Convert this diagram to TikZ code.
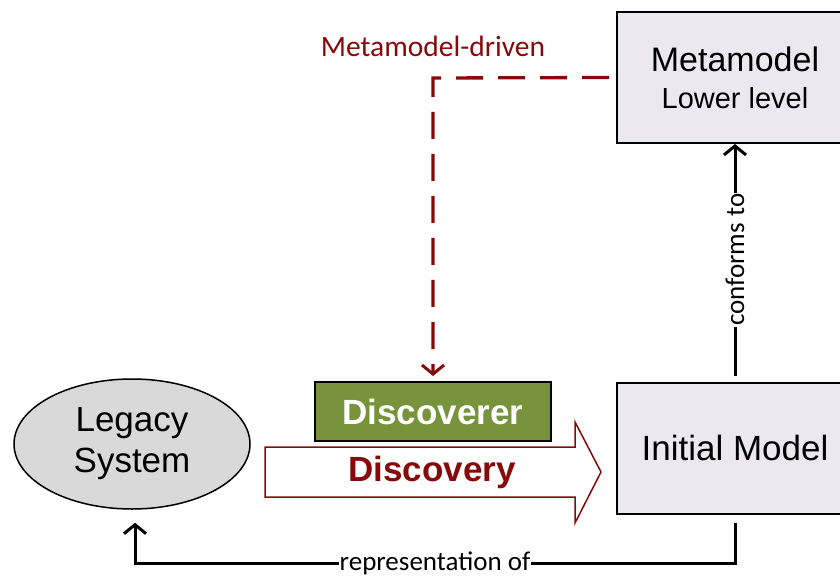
\documentclass[tikz,border=0pt]{standalone}
\usepackage{fontspec}
\setmainfont{Liberation Sans}
\newfontfamily\labelfont{Carlito}
\usetikzlibrary{shapes.geometric,arrows.meta}

\definecolor{boxfill}{RGB}{235,232,239}
\definecolor{legacyfill}{RGB}{217,217,217}
\definecolor{discgreen}{RGB}{119,147,60}
\definecolor{darkred}{RGB}{134,10,10}

\tikzset{
  model/.style={draw, line width=2pt, fill=boxfill, rectangle, align=center,
                minimum width=236, minimum height=131},
  conn/.style={line width=3pt, -{Straight Barb[length=9pt,width=22pt,line width=3pt]}},
  lbl/.style={fill=white, inner sep=1pt, font=\labelfont\fontsize{27}{30}\selectfont}
}

\begin{document}
\begin{tikzpicture}[x=1pt,y=-1pt]
\useasboundingbox (0,0) rectangle (840,577);
\clip (0,0) rectangle (840,577); % right boxes run past the edge

% models on the right
\node[model, font=\fontsize{34}{37}\selectfont] (meta) at (735,77.5)
  {Metamodel\\{\fontsize{29}{37}\selectfont Lower level}};
\node[model, font=\fontsize{35}{40}\selectfont] (init) at (735,448) {Initial Model};

% the system to discover
\node[ellipse, draw, line width=1.5pt, fill=legacyfill, align=center,
      minimum width=236, minimum height=130,
      font=\fontsize{35}{41}\selectfont] (legacy) at (132,444) {Legacy\\System};

% discoverer and discovery arrow
\node[draw, line width=2pt, fill=discgreen, minimum width=236, minimum height=59,
      text=white, font=\bfseries\fontsize{35}{38}\selectfont] (disc) at (433,411.5) {Discoverer};
\draw[darkred, line width=1.5pt, fill=white]
  (265,447) -- (575,447) -- (575,422) -- (601,472) -- (575,523) -- (575,497) -- (265,497) -- cycle;
\node[text=darkred, font=\bfseries\fontsize{35}{38}\selectfont] (discovery) at (432,472) {Discovery};

% metamodel-driven link
\node[text=darkred, font=\labelfont\fontsize{29.5}{32}\selectfont] (driven) at (433,46) {Metamodel-driven};
\coordinate (corner) at (433,78);
\draw[darkred, line width=3.3pt, dash pattern=on 27pt off 15pt,
      -{Straight Barb[length=9pt,width=22pt,line width=3pt]}]
  ([xshift=-7pt]meta.west) -- (corner) -- ([yshift=5pt]disc.north);

% conforms to
\draw[conn] ([yshift=6pt]init.north) -- node[lbl, rotate=90] {conforms to} (meta.south);

% representation of
\coordinate (bendR) at (735,563);
\coordinate (bendL) at (135,563);
\draw[conn] ([yshift=-8pt]init.south) -- (bendR) -- node[lbl] {representation of} (bendL)
  -- ([xshift=3pt,yshift=-13pt]legacy.south);
\end{tikzpicture}
\end{document}
